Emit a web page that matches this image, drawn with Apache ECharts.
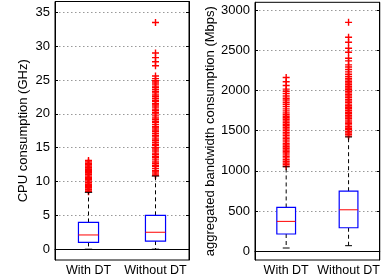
<!DOCTYPE html>
<html>
<head>
<meta charset="utf-8">
<script src="https://cdn.jsdelivr.net/npm/echarts@6/dist/echarts.min.js"></script>
<style>
  html, body { margin: 0; padding: 0; background: #fff; }
  #main { width: 382px; height: 277px; }
</style>
</head>
<body>
<div id="main"></div>
<script>
var categories = ['With DT', 'Without DT'];

// box stats: [low whisker, Q1, median, Q3, high whisker]
var cpuBoxWith = [0, 1.0, 2.1, 3.95, 8.4];
var cpuBoxWithout = [0, 1.2, 2.5, 5.0, 10.8];
var bwBoxWith = [41, 215, 372, 545, 1050];
var bwBoxWithout = [70, 293, 516, 747, 1421];

// outliers
var cpuOutWith = [8.5, 8.6, 8.8, 8.9, 9.1, 9.3, 9.4, 9.6, 9.8, 9.9, 10.1, 10.3, 10.4, 10.6,
  10.8, 11.0, 11.1, 11.3, 11.5, 11.6, 11.8, 12.0, 12.1, 12.3, 12.5, 12.7, 12.9, 13.1];
var cpuOutWithout = [10.9, 11.1, 11.4, 11.6, 11.9, 12.2, 12.4, 12.7, 12.9, 13.2, 13.5, 13.7,
  14.0, 14.2, 14.5, 14.8, 15.0, 15.3, 15.5, 15.8, 16.1, 16.3, 16.6, 16.8, 17.1, 17.4, 17.6,
  17.9, 18.1, 18.4, 18.7, 18.9, 19.2, 19.4, 19.7, 20.0, 20.2, 20.5, 20.7, 21.0, 21.3, 21.5,
  21.8, 22.0, 22.3, 22.6, 22.8, 23.1, 23.3, 23.6, 23.9, 24.1, 24.4, 24.7, 24.9, 25.2, 25.6,
  27.1, 27.7, 28.3, 29.0, 33.5];
var bwOutWith = [1058, 1079, 1097, 1120, 1139, 1161, 1180, 1198, 1221, 1240, 1259, 1281, 1300,
  1322, 1339, 1360, 1382, 1400, 1419, 1441, 1460, 1478, 1500, 1521, 1540, 1561, 1580, 1599,
  1620, 1642, 1660, 1679, 1700, 1721, 1745, 1770, 1800, 1828, 1852, 1880, 1903, 1930, 1962,
  1990, 2016, 2060, 2107, 2160];
var bwOutWithout = [1432, 1450, 1471, 1490, 1512, 1530, 1549, 1571, 1590, 1608, 1630, 1651,
  1670, 1688, 1710, 1729, 1750, 1771, 1790, 1809, 1830, 1852, 1870, 1889, 1910, 1931, 1950,
  1969, 1990, 2011, 2030, 2049, 2070, 2092, 2110, 2131, 2150, 2172, 2200, 2230, 2260, 2290,
  2317, 2367, 2400, 2475, 2524, 2598, 2660, 2846];

var cpuTicks = [0, 5, 10, 15, 20, 25, 30, 35];
var bwTicks = [0, 500, 1000, 1500, 2000, 2500, 3000];

var FONT = 'Liberation Sans, Arial, sans-serif';
var plus = 'path://M0,4H10V6H0Z M4,0H6V10H4Z';

function boxRow(i, b) { return [i, b[0], b[1], b[2], b[3], b[4]]; }
function outRows(i, arr) { return arr.map(function (v) { return [i, v]; }); }

function renderBox(params, api) {
  var x = api.value(0);
  var low = api.coord([x, api.value(1)]);
  var q1 = api.coord([x, api.value(2)]);
  var med = api.coord([x, api.value(3)]);
  var q3 = api.coord([x, api.value(4)]);
  var high = api.coord([x, api.value(5)]);
  var band = api.size([1, 0])[0];
  var half = band * 0.15, cap = band * 0.055;
  var cx = low[0];
  var dash = { stroke: '#000', lineWidth: 1, lineDash: [4, 3] };
  var solid = { stroke: '#000', lineWidth: 1 };
  return {
    type: 'group',
    children: [
      { type: 'line', shape: { x1: cx, y1: q3[1], x2: cx, y2: high[1] }, style: dash },
      { type: 'line', shape: { x1: cx, y1: q1[1], x2: cx, y2: low[1] }, style: dash },
      { type: 'line', shape: { x1: cx - cap, y1: high[1], x2: cx + cap, y2: high[1] }, style: solid },
      { type: 'line', shape: { x1: cx - cap, y1: low[1], x2: cx + cap, y2: low[1] }, style: solid },
      { type: 'rect', shape: { x: cx - half, y: q3[1], width: half * 2, height: q1[1] - q3[1] },
        style: { fill: '#fff', stroke: '#0000ff', lineWidth: 1.2 } },
      { type: 'line', shape: { x1: cx - half, y1: med[1], x2: cx + half, y2: med[1] },
        style: { stroke: '#ff0000', lineWidth: 1 } }
    ]
  };
}

function xAx(g) {
  return {
    type: 'category', gridIndex: g, data: categories, boundaryGap: true,
    axisLine: { lineStyle: { color: '#000' } },
    axisTick: { show: false },
    axisLabel: { color: '#000', fontSize: 12.5, fontFamily: FONT, margin: 4, interval: 0 }
  };
}
function yAx(g, min, max, ticks, name, gap) {
  return {
    type: 'value', gridIndex: g, min: min, max: max,
    name: name, nameLocation: 'middle', nameGap: gap,
    nameTextStyle: { color: '#000', fontSize: 13, fontFamily: FONT },
    axisLine: { show: true, lineStyle: { color: '#000' } },
    axisTick: { show: true, inside: true, length: 3, customValues: ticks, lineStyle: { color: '#000' } },
    axisLabel: { customValues: ticks, color: '#000', fontSize: 13, fontFamily: FONT, margin: 5,
      formatter: function (v) { return String(v); } },
    splitLine: { show: true, lineStyle: { color: '#999', type: [1.5, 2.5], width: 1 } }
  };
}
function yRight(g, min, max, ticks) {
  return {
    type: 'value', gridIndex: g, min: min, max: max, position: 'right',
    axisLine: { show: true, lineStyle: { color: '#000' } },
    axisTick: { show: true, inside: true, length: 3, customValues: ticks, lineStyle: { color: '#000' } },
    axisLabel: { show: false },
    splitLine: { show: false }
  };
}

var chart = echarts.init(document.getElementById('main'));
chart.setOption({
  animation: false,
  backgroundColor: '#fff',
  grid: [
    { left: 55, right: 193, top: 1.5, bottom: 17, show: true, borderColor: '#000', borderWidth: 1 },
    { left: 255, right: -1, top: 2.3, bottom: 16.3, show: true, borderColor: '#000', borderWidth: 1 }
  ],
  xAxis: [xAx(0), xAx(1)],
  yAxis: [
    yAx(0, -1.6, 36.6, cpuTicks, 'CPU consumption (GHz)', 25),
    yRight(0, -1.6, 36.6, cpuTicks),
    yAx(1, -108, 3095, bwTicks, 'aggregated bandwidth consumption (Mbps)', 35),
    yRight(1, -108, 3095, bwTicks)
  ],
  series: [
    { type: 'scatter', xAxisIndex: 0, yAxisIndex: 0, z: 2, symbol: plus, symbolSize: 7,
      itemStyle: { color: '#ff0000', opacity: 1 }, data: outRows(0, cpuOutWith).concat(outRows(1, cpuOutWithout)) },
    { type: 'custom', xAxisIndex: 0, yAxisIndex: 0, z: 3, renderItem: renderBox,
      data: [boxRow(0, cpuBoxWith), boxRow(1, cpuBoxWithout)] },
    { type: 'scatter', xAxisIndex: 1, yAxisIndex: 2, z: 2, symbol: plus, symbolSize: 7,
      itemStyle: { color: '#ff0000', opacity: 1 }, data: outRows(0, bwOutWith).concat(outRows(1, bwOutWithout)) },
    { type: 'custom', xAxisIndex: 1, yAxisIndex: 2, z: 3, renderItem: renderBox,
      data: [boxRow(0, bwBoxWith), boxRow(1, bwBoxWithout)] }
  ]
});
</script>
</body>
</html>
